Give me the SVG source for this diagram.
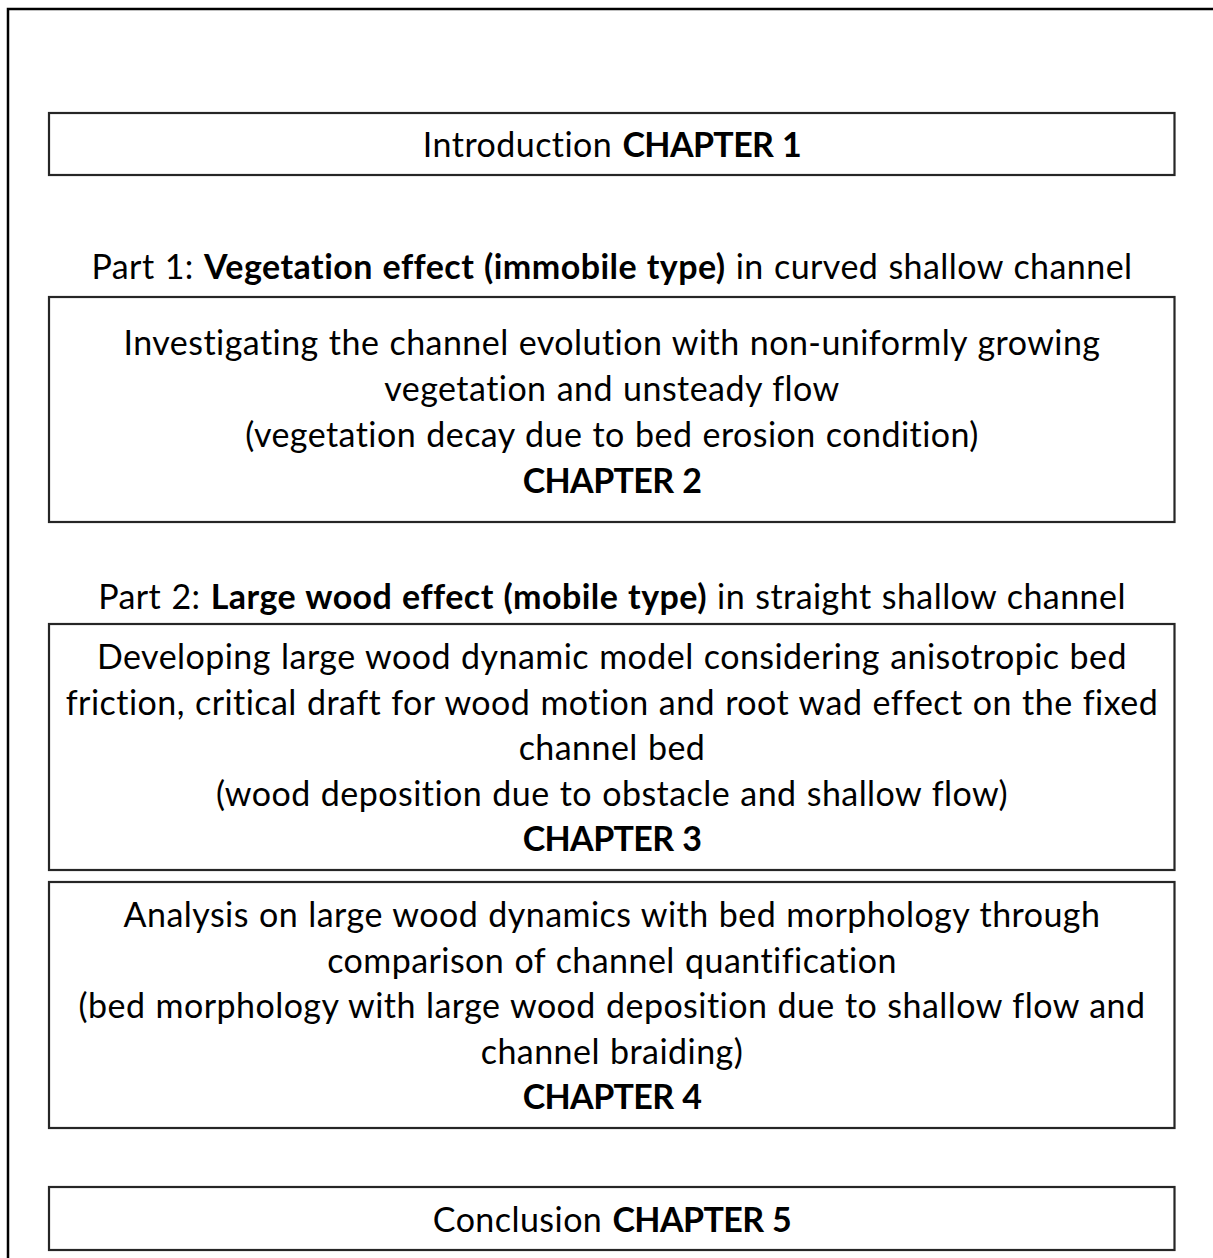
<svg xmlns="http://www.w3.org/2000/svg" width="1213" height="1258" viewBox="0 0 1213 1258">
<style>
.box{fill:#fff;stroke:#262626;stroke-width:2.2}
.t{font-family:Lato,"Liberation Sans",sans-serif;font-size:34px;letter-spacing:0.45px;word-spacing:1px;fill:#000;text-anchor:middle}
.b{font-weight:bold}
.c{letter-spacing:-0.6px}
</style>
<rect width="1213" height="1258" fill="#fff"/>
<rect x="8" y="9" width="1220" height="1270" fill="none" stroke="#000" stroke-width="2.5"/>
<g id="intro">
<rect class="box" x="49" y="113" width="1125.5" height="62"/>
<text class="t" x="612" y="157">Introduction <tspan class="b c">CHAPTER 1</tspan></text>
</g>
<g id="part1">
<text class="t" x="612" y="279">Part 1: <tspan class="b">Vegetation effect (immobile type)</tspan> in curved shallow channel</text>
</g>
<g id="chapter2">
<rect class="box" x="49" y="297" width="1125.5" height="225"/>
<text class="t" x="612" y="355">Investigating the channel evolution with non-uniformly growing</text>
<text class="t" x="612" y="401">vegetation and unsteady flow</text>
<text class="t" x="612" y="447">(vegetation decay due to bed erosion condition)</text>
<text class="t b c" x="612" y="493">CHAPTER 2</text>
</g>
<g id="part2">
<text class="t" x="612" y="609">Part 2: <tspan class="b">Large wood effect (mobile type)</tspan> in straight shallow channel</text>
</g>
<g id="chapter3">
<rect class="box" x="49" y="624" width="1125.5" height="246"/>
<text class="t" x="612" y="669">Developing large wood dynamic model considering anisotropic bed</text>
<text class="t" x="612" y="715">friction, critical draft for wood motion and root wad effect on the fixed</text>
<text class="t" x="612" y="760">channel bed</text>
<text class="t" x="612" y="806">(wood deposition due to obstacle and shallow flow)</text>
<text class="t b c" x="612" y="851">CHAPTER 3</text>
</g>
<g id="chapter4">
<rect class="box" x="49" y="882" width="1125.5" height="246"/>
<text class="t" x="612" y="927">Analysis on large wood dynamics with bed morphology through</text>
<text class="t" x="612" y="973">comparison of channel quantification</text>
<text class="t" x="612" y="1018">(bed morphology with large wood deposition due to shallow flow and</text>
<text class="t" x="612" y="1064">channel braiding)</text>
<text class="t b c" x="612" y="1109">CHAPTER 4</text>
</g>
<g id="conclusion">
<rect class="box" x="49" y="1187" width="1125.5" height="63"/>
<text class="t" x="612" y="1232">Conclusion <tspan class="b c">CHAPTER 5</tspan></text>
</g>
<g id="connectors"></g>
</svg>
